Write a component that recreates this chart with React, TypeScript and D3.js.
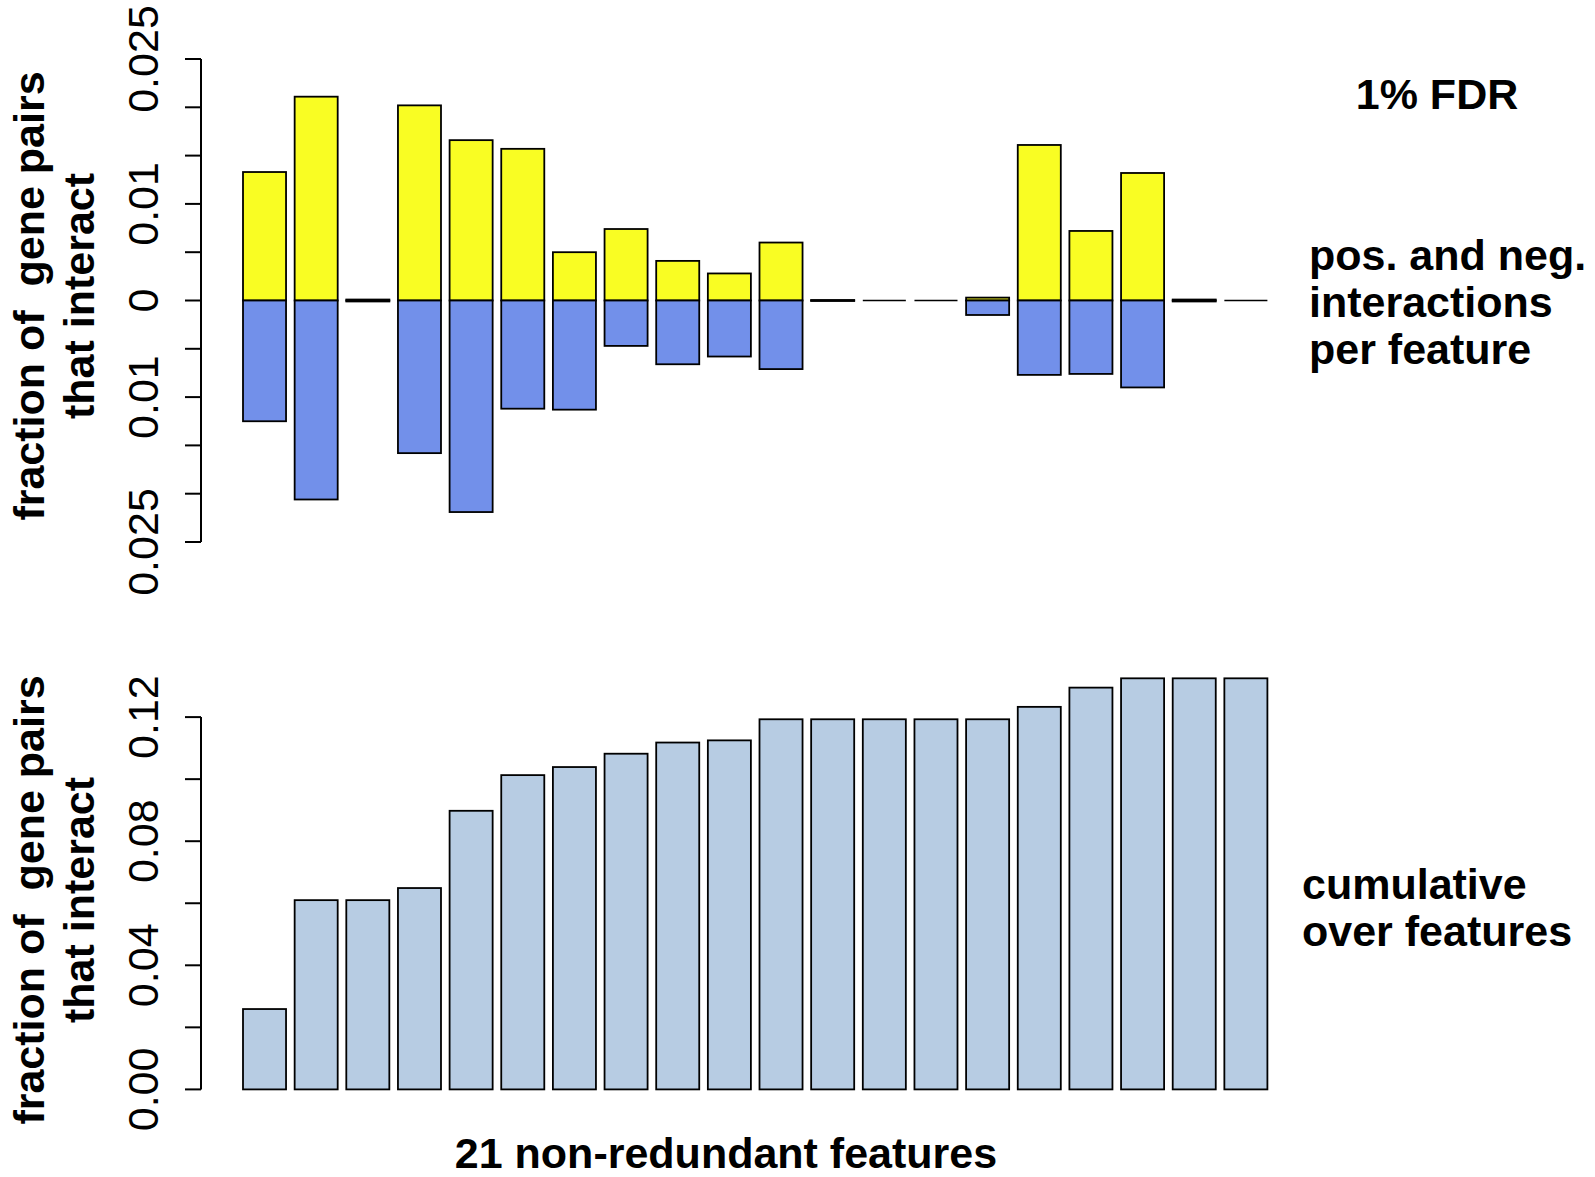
import React from 'react';
import * as d3 from 'd3';

// values
const features = d3.range(1, 21).map(i => `f${i}`);
const posFrac = [0.0133, 0.0211, 0.0001, 0.0202, 0.0166, 0.0157, 0.0050, 0.0074, 0.0041, 0.0028,
  0.0060, 0.00005, 0, 0, 0.0003, 0.0161, 0.0072, 0.0132, 0.0001, 0];
const negFrac = [0.0125, 0.0206, 0.0001, 0.0158, 0.0219, 0.0112, 0.0113, 0.0047, 0.0066, 0.0058,
  0.0071, 0.00005, 0, 0, 0.0015, 0.0077, 0.0076, 0.0090, 0.0001, 0];
const cumFrac = [0.0259, 0.0610, 0.0610, 0.0649, 0.0898, 0.1013, 0.1039, 0.1082, 0.1118, 0.1125,
  0.1193, 0.1193, 0.1193, 0.1193, 0.1193, 0.1233, 0.1295, 0.1325, 0.1325, 0.1325];
const topTicks = d3.range(-0.025, 0.02501, 0.005);
const topTickLabels = [0.025, 0.01, 0, -0.01, -0.025];
const botTicks = d3.range(0, 0.1201, 0.02);
const botTickLabels = [0, 0.04, 0.08, 0.12];

const W = 1595;
const H = 1177;
const font = '"Liberation Sans", Arial, Helvetica, sans-serif';
const fs = 43;
const axisX = 201;

const App = () => {
  const x = d3.scaleBand().domain(features).range([243, 1267.4]).paddingInner(0.2 / 1.2).paddingOuter(0);
  const yTop = d3.scaleLinear().domain([-0.025, 0.025]).range([542, 59]);
  const yBot = d3.scaleLinear().domain([0, 0.12]).range([1089.4, 717.1]);

  const axis = (scale, ticks, labels, fmt) => (
    <g>
      <line x1={axisX} x2={axisX} y1={scale(ticks[0])} y2={scale(ticks[ticks.length - 1])} stroke="#000" strokeWidth={2} />
      {ticks.map((t, i) => (
        <line key={i} x1={axisX - 16} x2={axisX} y1={scale(t)} y2={scale(t)} stroke="#000" strokeWidth={2} />
      ))}
      {labels.map((t, i) => (
        <text key={i} transform={`translate(158,${scale(t)}) rotate(-90)`} textAnchor="middle"
          fontSize={fs} fontFamily={font}>{fmt(t)}</text>
      ))}
    </g>
  );

  const yTitle = (cy) => (
    <g fontFamily={font} fontWeight="bold" fontSize={fs} textAnchor="middle">
      <text transform={`translate(44,${cy}) rotate(-90)`} style={{ whiteSpace: 'pre' }}>{'fraction of  gene pairs'}</text>
      <text transform={`translate(94,${cy}) rotate(-90)`}>that interact</text>
    </g>
  );

  const y0 = yTop(0);

  return (
    <svg width={W} height={H} style={{ position: 'absolute', left: 0, top: 0, background: '#fff' }}>
      {/* top panel: positive and negative interactions */}
      {features.map((f, i) => (
        <g key={f}>
          {posFrac[i] === 0 && negFrac[i] === 0 ? (
            <line x1={x(f)} x2={x(f) + x.bandwidth()} y1={y0} y2={y0} stroke="#000" strokeWidth={1.6} />
          ) : (
            <>
              <rect x={x(f)} width={x.bandwidth()} y={yTop(posFrac[i])} height={y0 - yTop(posFrac[i])}
                fill="#f9fd23" stroke="#000" strokeWidth={1.8} />
              <rect x={x(f)} width={x.bandwidth()} y={y0} height={yTop(-negFrac[i]) - y0}
                fill="#7290ea" stroke="#000" strokeWidth={1.8} />
            </>
          )}
        </g>
      ))}
      {axis(yTop, topTicks, topTickLabels, d => (d === 0 ? '0' : String(Math.abs(d))))}
      {yTitle(296)}

      {/* bottom panel: cumulative */}
      {features.map((f, i) => (
        <rect key={f} x={x(f)} width={x.bandwidth()} y={yBot(cumFrac[i])} height={yBot(0) - yBot(cumFrac[i])}
          fill="#b7cce3" stroke="#000" strokeWidth={1.8} />
      ))}
      {axis(yBot, botTicks, botTickLabels, d3.format('.2f'))}
      {yTitle(900)}

      <g fontFamily={font} fontWeight="bold" fontSize={fs}>
        <text x={1437} y={109} textAnchor="middle">1% FDR</text>
        <text x={1309} y={270}>pos. and neg.</text>
        <text x={1309} y={317}>interactions</text>
        <text x={1309} y={364}>per feature</text>
        <text x={1302} y={899}>cumulative</text>
        <text x={1302} y={946}>over features</text>
        <text x={726} y={1168} textAnchor="middle">21 non-redundant features</text>
      </g>
    </svg>
  );
};

export default App;
